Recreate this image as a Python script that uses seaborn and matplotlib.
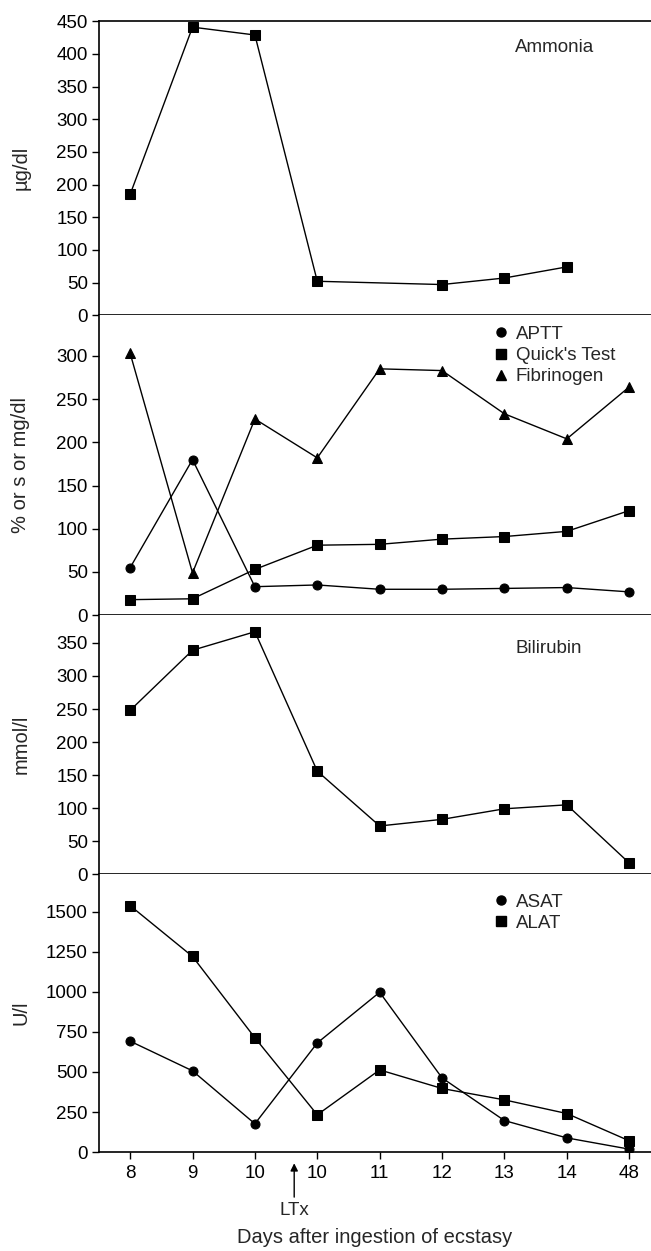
import numpy as np
import matplotlib
matplotlib.use('Agg')
import matplotlib.pyplot as plt
from matplotlib.lines import Line2D
import seaborn as sns

sns.set_theme(style='ticks')
plt.rcParams['font.family'] = ['Liberation Sans', 'DejaVu Sans']

# Datos (posiciones categóricas del eje X)
dias = ['8', '9', '10', '10', '11', '12', '13', '14', '48']
pos = np.arange(len(dias))

amonio = [185, 441, 429, 52, np.nan, 47, 57, 74, np.nan]
aptt = [55, 180, 33, 35, 30, 30, 31, 32, 27]
quick = [18, 19, 53, 81, 82, 88, 91, 97, 121]
fibrinogeno = [303, 49, 227, 182, 285, 283, 233, 204, 264]
bilirrubina = [248, 339, 367, 156, 73, 83, 99, 105, 17]
asat = [692, 507, 177, 681, 997, 463, 197, 89, 19]
alat = [1537, 1220, 713, 233, 513, 397, 326, 241, 71]

FS_TICK = 13.5
FS_LAB = 14.5
FS_TXT = 13.5
LW = 1.0
MS = {'s': 7, 'o': 6.5, '^': 7}

fig = plt.figure(figsize=(6.51, 12.51), dpi=100)
gs = fig.add_gridspec(4, 1, height_ratios=[294, 300, 259, 278],
                      left=0.152, right=1.0, top=0.983, bottom=0.079, hspace=0)
axes = [fig.add_subplot(gs[i]) for i in range(4)]


def serie(ax, y, marker):
    sns.lineplot(x=pos, y=y, ax=ax, color='black', linewidth=LW,
                 marker=marker, markersize=MS[marker],
                 markeredgecolor='black', markerfacecolor='black', sort=False)


serie(axes[0], amonio, 's')
serie(axes[1], aptt, 'o')
serie(axes[1], quick, 's')
serie(axes[1], fibrinogeno, '^')
serie(axes[2], bilirrubina, 's')
serie(axes[3], asat, 'o')
serie(axes[3], alat, 's')

limites = [(0, 450), (0, 347), (0, 392), (0, 1733)]
ticks = [np.arange(0, 451, 50), np.arange(0, 301, 50),
         np.arange(0, 351, 50), np.arange(0, 1501, 250)]
etiquetas = ['µg/dl', '% or s or mg/dl', 'mmol/l', 'U/l']

for i, ax in enumerate(axes):
    ax.set_xlim(-0.5, 8.35)
    ax.set_ylim(*limites[i])
    ax.set_yticks(ticks[i])
    ax.set_ylabel(etiquetas[i], fontsize=FS_LAB)
    ax.yaxis.set_label_coords(-0.124, 0.5)
    ax.tick_params(axis='y', direction='out', length=5, width=1,
                   labelsize=FS_TICK, colors='black', pad=3)
    ax.spines['right'].set_visible(False)
    ax.spines['top'].set_visible(i == 0)
    for s in ['left', 'bottom', 'top']:
        ax.spines[s].set_linewidth(1.2)
        ax.spines[s].set_color('black')
    if i < 3:
        ax.tick_params(axis='x', bottom=False, labelbottom=False)
    ax.set_xlabel('')

ax4 = axes[3]
ax4.set_xticks(pos)
ax4.set_xticklabels(dias)
ax4.tick_params(axis='x', direction='out', length=5, width=1,
                labelsize=FS_TICK, colors='black', pad=4)
ax4.set_xlabel('Days after ingestion of ecstasy', fontsize=FS_LAB, labelpad=33)

ax4.annotate('LTx', xy=(2.63, -0.04), xytext=(2.63, -0.209),
             xycoords=ax4.get_xaxis_transform(), textcoords=ax4.get_xaxis_transform(),
             ha='center', va='center', fontsize=FS_TXT,
             arrowprops=dict(arrowstyle='-|>', color='black', lw=1,
                             mutation_scale=11, shrinkA=1, shrinkB=0))

axes[0].text(0.754, 0.91, 'Ammonia', transform=axes[0].transAxes,
             fontsize=FS_TXT, va='center', ha='left')
axes[2].text(0.754, 0.87, 'Bilirubin', transform=axes[2].transAxes,
             fontsize=FS_TXT, va='center', ha='left')


def leyenda(ax, marcadores, nombres, y):
    handles = [Line2D([], [], color='black', linestyle='none', marker=m,
                      markersize=MS[m]) for m in marcadores]
    ax.legend(handles, nombres, loc='upper left', bbox_to_anchor=(0.718, y),
              frameon=False, fontsize=FS_TXT, handlelength=0.6, handletextpad=0.5,
              borderpad=0, borderaxespad=0, labelspacing=0.22)


leyenda(axes[1], ['o', 's', '^'], ['APTT', "Quick's Test", 'Fibrinogen'], 0.965)
leyenda(axes[3], ['o', 's'], ['ASAT', 'ALAT'], 0.93)

fig.savefig('out.png', dpi=100)
